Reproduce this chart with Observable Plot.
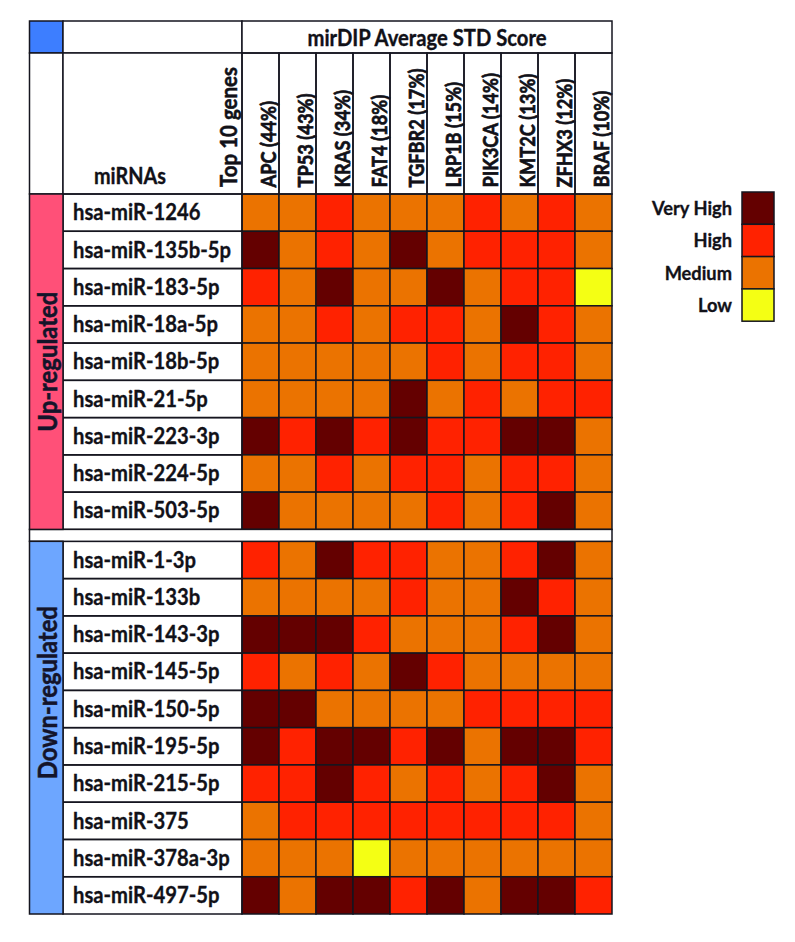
<!DOCTYPE html>
<html><head><meta charset="utf-8">
<script src="https://cdn.jsdelivr.net/npm/d3@7"></script>
<script src="https://cdn.jsdelivr.net/npm/@observablehq/plot@0.6"></script>
<style>html,body{margin:0;background:#fff;} svg{display:block}</style>
</head><body><div id="chart"></div>
<script>
// ---------- data ----------
const genes = ["APC (44%)","TP53 (43%)","KRAS (34%)","FAT4 (18%)","TGFBR2 (17%)","LRP1B (15%)","PIK3CA (14%)","KMT2C (13%)","ZFHX3 (12%)","BRAF (10%)"];
const upMirnas = ["hsa-miR-1246","hsa-miR-135b-5p","hsa-miR-183-5p","hsa-miR-18a-5p","hsa-miR-18b-5p","hsa-miR-21-5p","hsa-miR-223-3p","hsa-miR-224-5p","hsa-miR-503-5p"];
const downMirnas = ["hsa-miR-1-3p","hsa-miR-133b","hsa-miR-143-3p","hsa-miR-145-5p","hsa-miR-150-5p","hsa-miR-195-5p","hsa-miR-215-5p","hsa-miR-375","hsa-miR-378a-3p","hsa-miR-497-5p"];
// V = Very High, H = High, M = Medium, L = Low (one code per gene, in gene order)
const upScores = [
  ["M","M","H","M","M","M","H","M","H","M"],
  ["V","M","H","M","V","M","H","H","H","M"],
  ["H","M","V","M","M","V","M","H","H","L"],
  ["M","M","H","M","H","H","M","V","H","M"],
  ["M","M","M","M","M","H","M","H","H","M"],
  ["M","M","M","M","V","M","H","M","H","H"],
  ["V","H","V","H","V","H","H","V","V","M"],
  ["M","M","H","M","H","H","M","H","H","M"],
  ["V","M","M","M","M","H","M","H","V","M"]
];
const downScores = [
  ["H","M","V","H","H","M","M","H","V","M"],
  ["M","M","M","M","H","M","M","V","H","M"],
  ["V","V","V","H","M","M","M","H","V","M"],
  ["H","M","H","M","V","H","M","M","M","M"],
  ["V","V","M","M","M","M","H","H","H","H"],
  ["V","H","V","V","H","V","M","V","V","H"],
  ["H","H","V","H","M","H","M","H","V","M"],
  ["M","H","H","H","H","H","H","H","H","M"],
  ["M","M","M","L","M","M","M","M","M","M"],
  ["V","M","V","V","H","V","M","V","V","H"]
];
const levelCodes = ["V","H","M","L"];
const levels = ["Very High","High","Medium","Low"];
const levelColors = ["#640000","#FF2200","#EB7300","#F4FF14"];
const groups = ["Up-regulated","Down-regulated"];
const groupColors = ["#FF5078","#6DA6FF"];
const title = "mirDIP Average STD Score";

// ---------- table ----------
const GAP = 0.32; // blank separator row, in row units
const rows = [
  ...upMirnas.map((m,i)=>({mirna:m, group:groups[0], idx:i, scores:upScores[i]})),
  ...downMirnas.map((m,i)=>({mirna:m, group:groups[1], idx:upMirnas.length+GAP+i, scores:downScores[i]}))
];
const cells = rows.flatMap(r => genes.map((g,j)=>({
  gene:g, mirna:r.mirna, y1:r.idx, y2:r.idx+1, level: levels[levelCodes.indexOf(r.scores[j])]
})));
const total = upMirnas.length + downMirnas.length + GAP;

const W = 795, H = 942;
const M = {top:194, bottom:28, left:240.5, right:182.5};
const FONT = "Lato, 'Open Sans', sans-serif";
const LINE = "#15151f";
const INK = "#111118";

const plot = Plot.plot({
  width: W, height: H,
  marginTop: M.top, marginBottom: M.bottom, marginLeft: M.left, marginRight: M.right,
  x: {type:"band", domain: genes, padding: 0, axis: null},
  y: {domain: [0, total], reverse: true, axis: null},
  color: {domain: levels, range: levelColors},
  style: {fontFamily: FONT, background: "white", overflow: "visible"},
  marks: [
    Plot.barY(cells, {x:"gene", y1:"y1", y2:"y2", fill:"level", stroke: LINE, strokeWidth: 1.5, inset: 0}),
    Plot.text(genes, {x: d=>d, text: d=>d, frameAnchor:"top", rotate:-90, textAnchor:"start", dy:-7,
      fontSize: 17, fontWeight: "bold", fill: INK}),
    Plot.text(rows, {y: d=>d.idx+0.5, text:"mirna", frameAnchor:"left", dx:-168, textAnchor:"start",
      fontSize: 17.5, fontWeight: "bold", fill: INK})
  ]
});

// ---------- table frame, drawn with the plot's own scales ----------
const ys = plot.scale("y"), xs = plot.scale("x");
const yf = v => ys.apply(v);
const bw = xs.bandwidth;
const xL = xs.apply(genes[0]), xR = xs.apply(genes[genes.length-1]) + bw;
const colA = 29.5, colB = 63;           // side band | label column | heatmap
const hTop = 21, hMid = 53, hBot = yf(0);
const svg = d3.select(plot);
const g = svg.append("g").attr("font-family", FONT).attr("font-weight","bold").attr("fill",INK);
const box = (x,y,w,h,fill) => g.append("rect").attr("x",x).attr("y",y).attr("width",w).attr("height",h)
  .attr("fill",fill).attr("stroke",LINE).attr("stroke-width",1.5);

// header row 1
box(colA,hTop,colB-colA,hMid-hTop,"#3D7EFF");
box(colB,hTop,xL-colB,hMid-hTop,"white");
box(xL,hTop,xR-xL,hMid-hTop,"white");
const tTitle = g.append("text").attr("x",(xL+xR)/2).attr("y",(hTop+hMid)/2+1).attr("dy","0.35em").attr("text-anchor","middle")
  .text(title);
// header row 2
box(colA,hMid,colB-colA,hBot-hMid,"white");
box(colB,hMid,xL-colB,hBot-hMid,"white");
genes.forEach(ge => box(xs.apply(ge),hMid,bw,hBot-hMid,"none"));
const tMir = g.append("text").attr("x",94).attr("y",hBot-10).attr("text-anchor","start").text("miRNAs");
const tTop = g.append("text").attr("transform",`translate(${xL-13},${hBot-7}) rotate(-90)`).attr("dy","0.35em")
  .attr("text-anchor","start").text("Top 10 genes");
// label cells
rows.forEach(r => box(colB, yf(r.idx), xL-colB, yf(r.idx+1)-yf(r.idx), "none"));
// gap row
box(colA, yf(upMirnas.length), xR-colA, yf(upMirnas.length+GAP)-yf(upMirnas.length), "white");
// group bands
const textShift = [0, -35];
const tGroups = [];
groups.forEach((gr,i) => {
  const rs = rows.filter(r=>r.group===gr);
  const y0 = yf(rs[0].idx), y1 = yf(rs[rs.length-1].idx+1);
  box(colA, y0, colB-colA, y1-y0, groupColors[i]);
  tGroups.push(g.append("text").attr("transform",`translate(${(colA+colB)/2+1},${(y0+y1)/2+textShift[i]}) rotate(-90)`)
    .attr("dy","0.35em").attr("text-anchor","middle").attr("fill","#14142a").text(gr).node());
});

// ---------- legend ----------
const cs = plot.scale("color");
const lgX = 742, lgY = 192, lgW = 32, lgH = 32.3;
const tLegend = [];
levels.forEach((lv,i) => {
  box(lgX, lgY+i*lgH, lgW, lgH, cs.apply(lv));
  tLegend.push(g.append("text").attr("x", lgX-10).attr("y", lgY+i*lgH+lgH/2).attr("dy","0.35em").attr("text-anchor","end")
    .text(lv).node());
});

document.getElementById("chart").appendChild(plot);

// ---------- fit font sizes to the reference text lengths ----------
const allText = Array.from(plot.querySelectorAll("text"));
const geneNodes = allText.filter(n => genes.includes(n.textContent) && !g.node().contains(n));
const rowNodes = allText.filter(n => upMirnas.includes(n.textContent) || downMirnas.includes(n.textContent));
function fit(nodes, refNode, target, squeeze, heavy) {
  nodes.forEach(n => { n.style.fontSize = "20px"; n.style.fontWeight = "bold"; });
  const len = refNode.getComputedTextLength();
  const s = 20 * target / len / squeeze;
  nodes.forEach(n => {
    n.style.fontSize = s + "px";
    const L = n.getComputedTextLength();
    n.setAttribute("textLength", L * squeeze);
    n.setAttribute("lengthAdjust", "spacingAndGlyphs");
    n.style.stroke = n.getAttribute("fill") || INK;
    n.style.strokeWidth = heavy;
    n.style.paintOrder = "fill";
  });
}
fit(geneNodes, geneNodes.find(n=>n.textContent==="TGFBR2 (17%)"), 119, 0.88, 0.7);
fit(rowNodes, rowNodes.find(n=>n.textContent==="hsa-miR-135b-5p"), 158, 0.9, 0.35);
fit([tTitle.node()], tTitle.node(), 239, 0.92, 0.35);
fit([tMir.node()], tMir.node(), 72, 0.9, 0.35);
fit([tTop.node()], tTop.node(), 120, 0.9, 0.5);
fit(tGroups, tGroups[0], 140, 0.9, 0.5);
fit(tLegend, tLegend[0], 80, 0.92, 0.35);
</script>
</body></html>
